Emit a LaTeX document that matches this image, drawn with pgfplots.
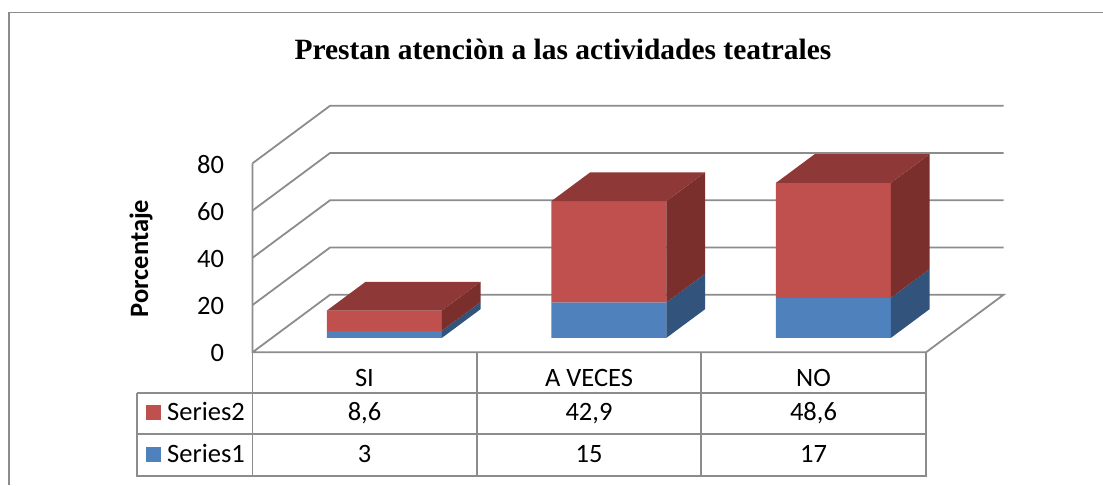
\documentclass[border=0pt]{standalone}
\usepackage{pgfplots}
\pgfplotsset{compat=1.18}
\usepackage{fontspec}
\setmainfont{Carlito}
\newfontfamily\titlefont{Liberation Serif}
\definecolor{gridc}{HTML}{8C8C8C}
\definecolor{blueF}{HTML}{4F81BD}
\definecolor{blueS}{HTML}{31537C}
\definecolor{redF}{HTML}{C0504D}
\definecolor{redS}{HTML}{7A2F2D}
\definecolor{redT}{HTML}{8E3937}
\newcommand\lab{\fontsize{26.5}{30}\selectfont}
% #1 x0, #2 x1, #3 z0, #4 z1, #5 front, #6 side
\newcommand\barseg[6]{%
  \addplot3[fill=#5,draw=none,forget plot] coordinates {(#1,0.25,#3)(#2,0.25,#3)(#2,0.25,#4)(#1,0.25,#4)(#1,0.25,#3)};
  \addplot3[fill=#6,draw=none,forget plot] coordinates {(#2,0.25,#3)(#2,0.75,#3)(#2,0.75,#4)(#2,0.25,#4)(#2,0.25,#3)};
}
\newcommand\bartop[3]{%
  \addplot3[fill=redT,draw=none,forget plot] coordinates {(#1,0.25,#3)(#2,0.25,#3)(#2,0.75,#3)(#1,0.75,#3)(#1,0.25,#3)};
}
\begin{document}
\begin{tikzpicture}[x=1pt,y=1pt]
\useasboundingbox (0,0) rectangle (1103,485);
\begin{axis}[
  at={(252.5pt,132.7pt)},anchor=origin,
  x={(224.5pt,0pt)},y={(77.5pt,57.5pt)},z={(0pt,2.3625pt)},
  disabledatascaling,
  xmin=0,xmax=3,ymin=0,ymax=1,zmin=0,zmax=80,
  clip=false,
  axis x line=none,axis y line=none,axis z line=left,
  axis line style={draw=none},
  xtick=\empty,ytick=\empty,
  ztick={0,20,40,60,80},
  major tick length=0pt,
  /pgf/number format/assume math mode=true,
  z tick label style={font=\lab,anchor=east,xshift=-25pt,yshift=-1pt},
  no marks,
]
% walls and floor
\addplot3[gridc,line width=1.8pt,forget plot] coordinates {(0,0,80)(0,0,0)(3,0,0)(3,1,0)(0,1,0)(0,0,0)};
\addplot3[gridc,line width=1.8pt,forget plot] coordinates {(0,0,20)(0,1,20)(3,1,20)};
\addplot3[gridc,line width=1.8pt,forget plot] coordinates {(0,0,40)(0,1,40)(3,1,40)};
\addplot3[gridc,line width=1.8pt,forget plot] coordinates {(0,0,60)(0,1,60)(3,1,60)};
\addplot3[gridc,line width=1.8pt,forget plot] coordinates {(0,0,80)(0,1,80)(3,1,80)};
% SI
\barseg{0.245}{0.757}{0}{3}{blueF}{blueS}
\barseg{0.245}{0.757}{3}{11.6}{redF}{redS}
\bartop{0.245}{0.757}{11.6}
% A VECES
\barseg{1.245}{1.757}{0}{15}{blueF}{blueS}
\barseg{1.245}{1.757}{15}{57.9}{redF}{redS}
\bartop{1.245}{1.757}{57.9}
% NO
\barseg{2.245}{2.757}{0}{17}{blueF}{blueS}
\barseg{2.245}{2.757}{17}{65.6}{redF}{redS}
\bartop{2.245}{2.757}{65.6}
\end{axis}
\begin{scope}[yshift=485pt,y=-1pt,x=1pt]
% chart frame
\draw[gridc,line width=1.2pt] (9,485) -- (9,12.5) -- (1103,12.5);
% title
\node[anchor=base,inner sep=0pt,font=\titlefont\bfseries\fontsize{29.45}{33}\selectfont] at (563,60) {Prestan atenciòn a las actividades teatrales};
% axis title
\node[anchor=base,rotate=90,inner sep=0pt,font=\lab\bfseries] at (148,258.5) {Porcentaje};
% data table
\begin{scope}[gridc,line width=1.8pt]
\draw (252.5,352.3) -- (252.5,475.7);
\draw (476.7,352.3) -- (476.7,475.7);
\draw (701,352.3) -- (701,475.7);
\draw (926,352.3) -- (926,475.7);
\draw (136.7,392.7) -- (926,392.7);
\draw (136.7,434.3) -- (926,434.3);
\draw (135.8,475.7) -- (926.9,475.7);
\draw (136.7,392.7) -- (136.7,475.7);
\end{scope}
\fill[redF] (146,405) rectangle (161,420);
\fill[blueF] (146,447) rectangle (161,462);
\tikzset{cell/.style={anchor=base,inner sep=0pt,font=\lab}}
\node[anchor=base west,inner sep=0pt,font=\lab] at (167,420.5) {Series2};
\node[anchor=base west,inner sep=0pt,font=\lab] at (167,462) {Series1};
\node[cell] at (364.5,386) {SI};
\node[cell] at (589,386) {A VECES};
\node[cell] at (813.5,386) {NO};
\node[cell] at (364.5,420.5) {8,6};
\node[cell] at (589,420.5) {42,9};
\node[cell] at (813.5,420.5) {48,6};
\node[cell] at (364.5,462) {3};
\node[cell] at (589,462) {15};
\node[cell] at (813.5,462) {17};
\end{scope}
\end{tikzpicture}
\end{document}
